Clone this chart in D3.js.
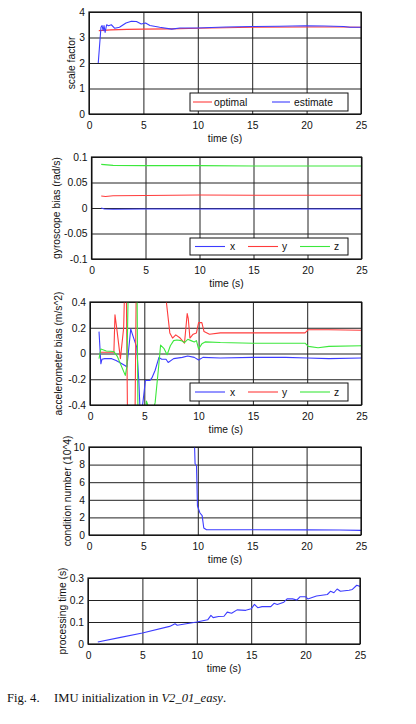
<!DOCTYPE html>
<html lang="en">
<head>
  <meta charset="UTF-8">
  <script src="https://d3js.org/d3.v7.min.js"></script>
  <title>IMU initialization</title>
  <style>
    body {
      margin: 0;
      background: #fff;
      overflow: hidden;
    }
    .tick text {
      font-family: "Liberation Sans", Arial, sans-serif;
      font-size: 10.3px;
      fill: #111;
    }
    .label {
      font-family: "Liberation Sans", Arial, sans-serif;
      font-size: 10.3px;
      fill: #111;
    }
    .caption {
      font-family: "Liberation Serif", "Times New Roman", serif;
      font-size: 12.6px;
      fill: #111;
    }
  </style>
</head>
<body>
<script>
  // ---- data ----
  const timeTicks = [0, 5, 10, 15, 20, 25];

  // scale factor
  const scaleTicks = [0, 1, 2, 3, 4];
  const scaleOptimal = [[0.9, 3.27], [2, 3.3], [3.5, 3.32], [5, 3.33], [7.5, 3.34], [10, 3.36],
    [12.5, 3.38], [15, 3.4], [20, 3.41], [23, 3.41], [25, 3.4]];
  const scaleEstimate = [[0.85, 2.0], [1.1, 3.4], [1.2, 3.47], [1.3, 3.27], [1.38, 3.47], [1.48, 3.2],
    [1.62, 3.5], [1.8, 3.46], [2.05, 3.5], [2.37, 3.36], [2.8, 3.4], [3.4, 3.57], [3.9, 3.64],
    [4.36, 3.63], [4.8, 3.53], [5.2, 3.57], [5.6, 3.47], [6.5, 3.4], [7.6, 3.33], [8.35, 3.37],
    [9.9, 3.37], [12.6, 3.41], [15, 3.43], [17.5, 3.44], [19.9, 3.46], [21.6, 3.45], [23.4, 3.43],
    [24, 3.4], [25, 3.4]];

  // gyroscope bias
  const gyroTicks = [-0.1, -0.05, 0, 0.05, 0.1];
  const gyroX = [[0.9, 0.0], [1.2, -0.002], [2, -0.0025], [5, -0.002], [10, -0.002], [15, -0.002],
    [20, -0.002], [25, -0.002]];
  const gyroY = [[0.9, 0.0235], [1.3, 0.0225], [2, 0.024], [5, 0.0245], [10, 0.0255], [15, 0.025],
    [20, 0.025], [25, 0.025]];
  const gyroZ = [[0.9, 0.0855], [2, 0.0835], [5, 0.083], [10, 0.083], [15, 0.0825], [20, 0.0825],
    [25, 0.0825]];

  // accelerometer bias (values beyond the axis range are clipped)
  const accTicks = [-0.4, -0.2, 0, 0.2, 0.4];
  const accX = [[0.83, 0.17], [1.0, -0.08], [1.1, -0.045], [1.35, -0.04], [2.0, -0.04], [2.4, -0.055],
    [2.9, -0.077], [3.25, -0.095], [3.4, -0.105], [3.75, 0.19], [3.9, 0.15], [4.3, 0.05],
    [4.5, -0.22], [4.6, -0.42], [4.75, -0.46], [4.9, -0.36], [5.1, -0.21], [5.5, -0.21],
    [5.7, -0.19], [6.0, -0.13], [6.35, -0.03], [6.6, -0.045], [7.0, -0.045], [7.2, -0.07],
    [7.7, -0.04], [8.5, -0.03], [9.0, -0.02], [9.6, -0.03], [10.0, -0.05], [10.4, -0.03],
    [12, -0.035], [15, -0.03], [18, -0.03], [20, -0.035], [22, -0.04], [25, -0.035]];
  const accY = [[0.9, 0.01], [1.2, 0.01], [2.2, 0.01], [2.3, 0.3], [2.5, 0.17], [2.8, -0.04],
    [3.1, 0.2], [3.3, 0.9], [3.5, -0.9], [4.1, -0.9], [4.3, 0.9], [6.9, 0.5], [7.35, 0.16],
    [7.6, 0.12], [7.9, 0.145], [8.3, 0.12], [8.7, 0.08], [8.95, 0.31], [9.05, 0.27], [9.2, 0.12],
    [9.5, 0.15], [9.8, 0.16], [10.0, 0.24], [10.3, 0.24], [10.5, 0.17], [11, 0.15], [12, 0.16],
    [15, 0.16], [19.8, 0.16], [20.1, 0.185], [22, 0.185], [25, 0.18]];
  const accZ = [[0.83, -0.04], [1.0, 0.035], [1.5, 0.02], [2.2, 0.015], [2.5, -0.02], [3.25, -0.17],
    [3.4, -0.1], [3.6, 0.9], [4.3, 0.9], [4.45, -0.9], [5.0, -0.6], [5.2, -0.37], [5.4, -0.42],
    [5.8, -0.45], [6.0, -0.38], [6.3, -0.12], [6.5, 0.065], [6.8, 0.04], [7.1, -0.01], [7.4, 0.06],
    [7.7, 0.1], [8.0, 0.105], [8.4, 0.1], [8.7, 0.085], [9.0, 0.11], [9.3, 0.1], [9.6, 0.09],
    [9.8, 0.1], [10.0, 0.035], [10.3, 0.075], [10.6, 0.09], [12, 0.085], [15, 0.08], [19.8, 0.08],
    [20.1, 0.055], [21, 0.045], [22, 0.055], [25, 0.06]];

  // condition number (10^4)
  const condTicks = [0, 2, 4, 6, 8, 10];
  const condNumber = [[9.5, 14], [9.7, 10.2], [9.75, 8.1], [9.88, 7.9], [9.97, 3.3], [10.2, 2.5],
    [10.4, 2.2], [10.55, 0.8], [10.8, 0.6], [15, 0.6], [20, 0.58], [23, 0.56], [25, 0.52]];

  // processing time (s)
  const procTicks = [0, 0.1, 0.2, 0.3];
  const procTime = [[0.9, 0.009], [3, 0.03], [5, 0.05], [7.5, 0.08], [8.0, 0.092], [8.2, 0.085],
    [10, 0.1], [11, 0.11], [11.3, 0.13], [11.5, 0.12], [12, 0.125], [12.5, 0.126], [12.8, 0.145],
    [13.2, 0.14], [13.7, 0.155], [14.5, 0.153], [15, 0.16], [15.3, 0.18], [15.6, 0.165], [16, 0.17],
    [16.8, 0.17], [17.1, 0.185], [17.4, 0.18], [18, 0.19], [18.3, 0.205], [18.8, 0.205],
    [19.2, 0.2], [19.5, 0.215], [20, 0.215], [20.2, 0.205], [21, 0.218], [22, 0.225], [22.3, 0.24],
    [22.6, 0.233], [22.9, 0.25], [23.2, 0.24], [24, 0.244], [24.3, 0.248], [24.7, 0.267],
    [25, 0.262]];

  const BLUE = "#3c3cff", RED = "#ff3c3c", GREEN = "#3ce83c";

  // ---- panels ----
  const panels = [
    { top: 12, bottom: 114, left: 89, right: 361, titleX: 71, ylabel: "scale factor",
      domain: [0, 4], ticks: scaleTicks,
      series: [{ name: "optimal", data: scaleOptimal, color: RED },
               { name: "estimate", data: scaleEstimate, color: BLUE }],
      legend: { x: 190, y: 93, w: 158, h: 18, items: [{ lx: 193, lw: 19, tx: 214 }, { lx: 272, lw: 18, tx: 294 }] } },
    { top: 157, bottom: 259, left: 91.5, right: 361.5, titleX: 56, ylabel: "gyroscope bias (rad/s)",
      domain: [-0.1, 0.1], ticks: gyroTicks,
      series: [{ name: "x", data: gyroX, color: BLUE },
               { name: "y", data: gyroY, color: RED },
               { name: "z", data: gyroZ, color: GREEN }] },
    { top: 302, bottom: 405, left: 90, right: 361.5, titleX: 58, ylabel: "accelerometer bias (m/s^2)",
      domain: [-0.4, 0.4], ticks: accTicks,
      series: [{ name: "x", data: accX, color: BLUE },
               { name: "y", data: accY, color: RED },
               { name: "z", data: accZ, color: GREEN }] },
    { top: 447, bottom: 535, left: 89, right: 361, titleX: 67, ylabel: "condition number (10^4)",
      domain: [0, 10], ticks: condTicks,
      series: [{ name: "cond", data: condNumber, color: BLUE }] },
    { top: 578, bottom: 644, left: 88, right: 360, titleX: 62, ylabel: "processing time (s)",
      domain: [0, 0.3], ticks: procTicks,
      series: [{ name: "time", data: procTime, color: BLUE }] }
  ];
  // gyro / accel legend layout
  panels[1].legend = { x: 190, y: 238, w: 158, h: 17,
    items: [{ lx: 195, lw: 30, tx: 230 }, { lx: 248, lw: 30, tx: 282 }, { lx: 300, lw: 30, tx: 334 }] };
  panels[2].legend = { x: 190, y: 383, w: 158, h: 18,
    items: [{ lx: 195, lw: 30, tx: 230 }, { lx: 248, lw: 30, tx: 282 }, { lx: 300, lw: 30, tx: 334 }] };

  const svg = d3.select("body").append("svg")
    .attr("width", 416)
    .attr("height", 724);

  svg.append("rect").attr("width", 416).attr("height", 724).attr("fill", "#fff");

  panels.forEach((p, i) => {
    const w = p.right - p.left, h = p.bottom - p.top;
    const x = d3.scaleLinear().domain([0, 25]).range([0, w]);
    const y = d3.scaleLinear().domain(p.domain).range([h, 0]);

    const g = svg.append("g").attr("transform", `translate(${p.left},${p.top})`);

    g.append("clipPath").attr("id", "clip" + i)
      .append("rect").attr("width", w).attr("height", h);

    // grid
    g.append("g")
      .call(d3.axisBottom(x).tickValues(timeTicks).tickSize(h).tickFormat(""))
      .call(a => a.select(".domain").remove())
      .selectAll("line").attr("stroke", "#222").attr("stroke-width", 1);
    g.append("g")
      .call(d3.axisLeft(y).tickValues(p.ticks).tickSize(-w).tickFormat(""))
      .call(a => a.select(".domain").remove())
      .selectAll("line").attr("stroke", "#222").attr("stroke-width", 1);

    // tick labels
    g.append("g").attr("transform", `translate(0,${h})`)
      .call(d3.axisBottom(x).tickValues(timeTicks).tickSize(0).tickPadding(8).tickFormat(d => String(d)))
      .call(a => a.select(".domain").remove());
    g.append("g")
      .call(d3.axisLeft(y).tickValues(p.ticks).tickSize(0).tickPadding(4)
        .tickFormat(d => String(+d.toFixed(3))))
      .call(a => a.select(".domain").remove());

    // series
    const line = d3.line().x(d => x(d[0])).y(d => y(d[1]));
    const lines = g.append("g").attr("clip-path", `url(#clip${i})`);
    p.series.forEach(s => {
      lines.append("path")
        .datum(s.data)
        .attr("fill", "none")
        .attr("stroke", s.color)
        .attr("stroke-width", 1.1)
        .attr("stroke-linejoin", "round")
        .attr("d", line);
    });

    // frame
    g.append("rect").attr("width", w).attr("height", h)
      .attr("fill", "none").attr("stroke", "#111").attr("stroke-width", 1.2);

    // axis titles
    svg.append("text").attr("class", "label")
      .attr("x", p.left + w / 2).attr("y", p.bottom + 28)
      .attr("text-anchor", "middle").text("time (s)");
    svg.append("text").attr("class", "label")
      .attr("transform", `translate(${p.titleX + 3.5},${p.top + h / 2}) rotate(-90)`)
      .attr("text-anchor", "middle").text(p.ylabel);

    // legend
    if (p.legend) {
      const L = p.legend;
      svg.append("rect").attr("x", L.x).attr("y", L.y).attr("width", L.w).attr("height", L.h)
        .attr("fill", "#fff").attr("stroke", "#111").attr("stroke-width", 1);
      const cy = L.y + L.h / 2;
      p.series.forEach((s, k) => {
        const it = L.items[k];
        svg.append("line").attr("x1", it.lx).attr("x2", it.lx + it.lw)
          .attr("y1", cy).attr("y2", cy)
          .attr("stroke", s.color).attr("stroke-width", 1.1);
        svg.append("text").attr("class", "label")
          .attr("x", it.tx).attr("y", cy + 3.6).text(s.name);
      });
    }
  });

  // caption
  const cap = svg.append("text").attr("class", "caption").attr("y", 702);
  cap.append("tspan").attr("x", 7).text("Fig. 4.");
  cap.append("tspan").attr("x", 54).text("IMU initialization in ");
  cap.append("tspan").attr("font-style", "italic").text("V2_01_easy");
  cap.append("tspan").text(".");
</script>
</body>
</html>
